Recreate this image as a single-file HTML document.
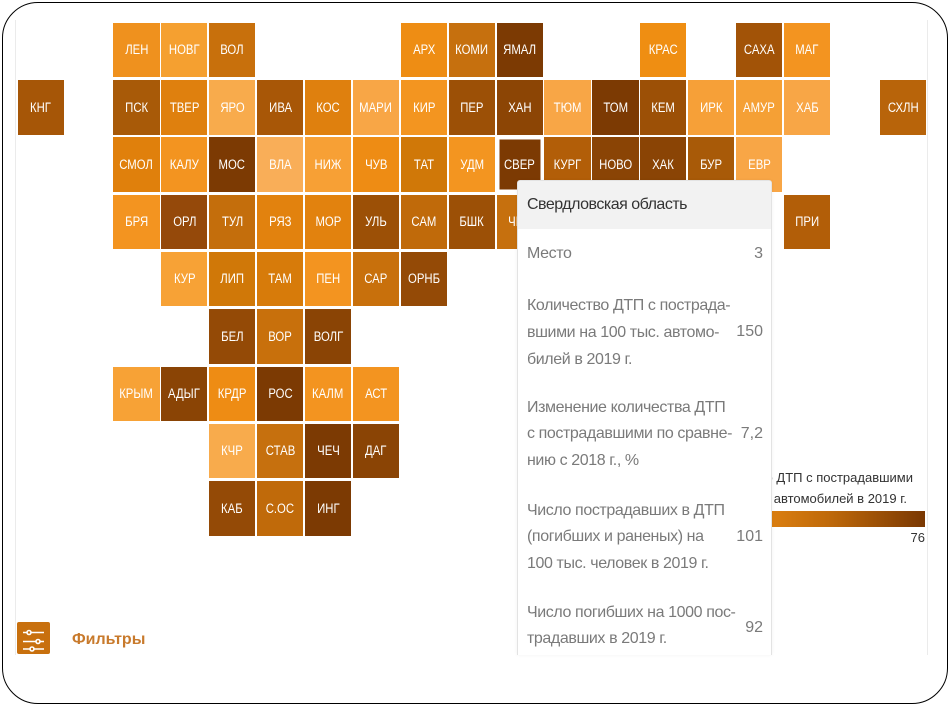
<!DOCTYPE html>
<html><head><meta charset="utf-8">
<style>
html,body{margin:0;padding:0;background:#fff;}
body{width:949px;height:705px;position:relative;overflow:hidden;font-family:"Liberation Sans","Noto Sans CJK SC",sans-serif;}
.frame{position:absolute;left:1.5px;top:1.5px;width:946.5px;height:702px;box-sizing:border-box;border:1.6px solid #000;border-radius:36px;z-index:50;pointer-events:none;}
.vl{position:absolute;width:1px;background:#ebebeb;top:20px;height:635px;}
.t{position:absolute;width:46.3px;height:54.5px;left:calc(17.5px + 47.9px*var(--c));top:calc(22.7px + 57.3px*var(--r));display:flex;align-items:center;justify-content:center;color:#fff;font-size:13.5px;line-height:1;}
.t span{display:inline-block;transform:scaleX(.84);white-space:nowrap;}
.tip{position:absolute;left:517px;top:180px;width:255px;height:475px;box-sizing:border-box;background:#fff;border:1px solid #e3e3e3;border-bottom:none;border-radius:3px 3px 0 0;box-shadow:0 0 3px rgba(0,0,0,.06);z-index:10;overflow:hidden;}
.tip .hd{position:absolute;left:0;top:0;right:0;height:48px;background:#f2f2f2;}
.ln{position:absolute;font-size:16px;line-height:27px;height:27px;white-space:nowrap;letter-spacing:-0.4px;color:#7a7a7a;}
.hdt{color:#333;letter-spacing:-0.5px;}
.val{position:absolute;font-size:16px;line-height:27px;height:27px;color:#7a7a7a;text-align:right;right:8px;width:60px;}
.lg{position:absolute;font-size:13px;line-height:20px;color:#333;white-space:nowrap;text-align:right;}
</style></head>
<body>
<div class="vl" style="left:15px"></div>
<div class="vl" style="left:927px"></div>

<!-- row 0 -->
<div class="t" style="--c:2;--r:0;background:#ef911e"><span>ЛЕН</span></div>
<div class="t" style="--c:3;--r:0;background:#f5a030"><span>НОВГ</span></div>
<div class="t" style="--c:4;--r:0;background:#c8700c"><span>ВОЛ</span></div>
<div class="t" style="--c:8;--r:0;background:#ee8d14"><span>АРХ</span></div>
<div class="t" style="--c:9;--r:0;background:#c6700e"><span>КОМИ</span></div>
<div class="t" style="--c:10;--r:0;background:#7c3a03"><span>ЯМАЛ</span></div>
<div class="t" style="--c:13;--r:0;background:#ef8e12"><span>КРАС</span></div>
<div class="t" style="--c:15;--r:0;background:#a25307"><span>САХА</span></div>
<div class="t" style="--c:16;--r:0;background:#f39420"><span>МАГ</span></div>
<!-- row 1 -->
<div class="t" style="--c:0;--r:1;background:#a65607"><span>КНГ</span></div>
<div class="t" style="--c:2;--r:1;background:#a85a08"><span>ПСК</span></div>
<div class="t" style="--c:3;--r:1;background:#df800e"><span>ТВЕР</span></div>
<div class="t" style="--c:4;--r:1;background:#f8ab4c"><span>ЯРО</span></div>
<div class="t" style="--c:5;--r:1;background:#a85707"><span>ИВА</span></div>
<div class="t" style="--c:6;--r:1;background:#df800e"><span>КОС</span></div>
<div class="t" style="--c:7;--r:1;background:#f8a646"><span>МАРИ</span></div>
<div class="t" style="--c:8;--r:1;background:#f39520"><span>КИР</span></div>
<div class="t" style="--c:9;--r:1;background:#9c5006"><span>ПЕР</span></div>
<div class="t" style="--c:10;--r:1;background:#8c4505"><span>ХАН</span></div>
<div class="t" style="--c:11;--r:1;background:#f8a646"><span>ТЮМ</span></div>
<div class="t" style="--c:12;--r:1;background:#7c3a03"><span>ТОМ</span></div>
<div class="t" style="--c:13;--r:1;background:#9c5006"><span>КЕМ</span></div>
<div class="t" style="--c:14;--r:1;background:#f6a038"><span>ИРК</span></div>
<div class="t" style="--c:15;--r:1;background:#f5a035"><span>АМУР</span></div>
<div class="t" style="--c:16;--r:1;background:#f8a646"><span>ХАБ</span></div>
<div class="t" style="--c:18;--r:1;background:#b8640a"><span>СХЛН</span></div>
<!-- row 2 -->
<div class="t" style="--c:2;--r:2;background:#e0800c"><span>СМОЛ</span></div>
<div class="t" style="--c:3;--r:2;background:#f39420"><span>КАЛУ</span></div>
<div class="t" style="--c:4;--r:2;background:#7c3a03"><span>МОС</span></div>
<div class="t" style="--c:5;--r:2;background:#f9ae58"><span>ВЛА</span></div>
<div class="t" style="--c:6;--r:2;background:#f7a035"><span>НИЖ</span></div>
<div class="t" style="--c:7;--r:2;background:#ee8c14"><span>ЧУВ</span></div>
<div class="t" style="--c:8;--r:2;background:#d07808"><span>ТАТ</span></div>
<div class="t" style="--c:9;--r:2;background:#f39520"><span>УДМ</span></div>
<div class="t" style="--c:10;--r:2;background:#7c3a03;box-shadow:inset 0 0 0 2.5px #fff"><span>СВЕР</span></div>
<div class="t" style="--c:11;--r:2;background:#b25e08"><span>КУРГ</span></div>
<div class="t" style="--c:12;--r:2;background:#8a4405"><span>НОВО</span></div>
<div class="t" style="--c:13;--r:2;background:#8a4405"><span>ХАК</span></div>
<div class="t" style="--c:14;--r:2;background:#a85a08"><span>БУР</span></div>
<div class="t" style="--c:15;--r:2;background:#f8a646"><span>ЕВР</span></div>
<!-- row 3 -->
<div class="t" style="--c:2;--r:3;background:#f39420"><span>БРЯ</span></div>
<div class="t" style="--c:3;--r:3;background:#95490a"><span>ОРЛ</span></div>
<div class="t" style="--c:4;--r:3;background:#c46e0c"><span>ТУЛ</span></div>
<div class="t" style="--c:5;--r:3;background:#e2820e"><span>РЯЗ</span></div>
<div class="t" style="--c:6;--r:3;background:#e2820e"><span>МОР</span></div>
<div class="t" style="--c:7;--r:3;background:#9c5006"><span>УЛЬ</span></div>
<div class="t" style="--c:8;--r:3;background:#c06a0a"><span>САМ</span></div>
<div class="t" style="--c:9;--r:3;background:#9c5006"><span>БШК</span></div>
<div class="t" style="--c:10;--r:3;background:#c6700e"><span>ЧЕЛ</span></div>
<div class="t" style="--c:16;--r:3;background:#b25e08"><span>ПРИ</span></div>
<!-- row 4 -->
<div class="t" style="--c:3;--r:4;background:#f7a236"><span>КУР</span></div>
<div class="t" style="--c:4;--r:4;background:#d07808"><span>ЛИП</span></div>
<div class="t" style="--c:5;--r:4;background:#d77b0a"><span>ТАМ</span></div>
<div class="t" style="--c:6;--r:4;background:#f39420"><span>ПЕН</span></div>
<div class="t" style="--c:7;--r:4;background:#c8700c"><span>САР</span></div>
<div class="t" style="--c:8;--r:4;background:#944a06"><span>ОРНБ</span></div>
<!-- row 5 -->
<div class="t" style="--c:4;--r:5;background:#944a06"><span>БЕЛ</span></div>
<div class="t" style="--c:5;--r:5;background:#c8700c"><span>ВОР</span></div>
<div class="t" style="--c:6;--r:5;background:#8a4405"><span>ВОЛГ</span></div>
<!-- row 6 -->
<div class="t" style="--c:2;--r:6;background:#f7a236"><span>КРЫМ</span></div>
<div class="t" style="--c:3;--r:6;background:#8a4405"><span>АДЫГ</span></div>
<div class="t" style="--c:4;--r:6;background:#ee8c14"><span>КРДР</span></div>
<div class="t" style="--c:5;--r:6;background:#7c3a03"><span>РОС</span></div>
<div class="t" style="--c:6;--r:6;background:#f39420"><span>КАЛМ</span></div>
<div class="t" style="--c:7;--r:6;background:#f39420"><span>АСТ</span></div>
<!-- row 7 -->
<div class="t" style="--c:4;--r:7;background:#f8ab4c"><span>КЧР</span></div>
<div class="t" style="--c:5;--r:7;background:#c6700e"><span>СТАВ</span></div>
<div class="t" style="--c:6;--r:7;background:#7c3a03"><span>ЧЕЧ</span></div>
<div class="t" style="--c:7;--r:7;background:#8a4405"><span>ДАГ</span></div>
<!-- row 8 -->
<div class="t" style="--c:4;--r:8;background:#944a06"><span>КАБ</span></div>
<div class="t" style="--c:5;--r:8;background:#c06a0a"><span>С.ОС</span></div>
<div class="t" style="--c:6;--r:8;background:#7c3a03"><span>ИНГ</span></div>

<!-- legend -->
<div class="lg" style="right:36px;top:468px;">Количество ДТП с пострадавшими</div>
<div class="lg" style="right:42px;top:489px;">на 100 тыс. автомобилей в 2019 г.</div>
<div style="position:absolute;left:600px;top:511px;width:325px;height:16px;background:linear-gradient(90deg,#f7a030 0%,#ee8d14 40%,#c06a0a 70%,#7a3802 100%);"></div>
<div class="lg" style="right:24px;top:528px;">76</div>

<!-- tooltip -->
<div class="tip">
  <div class="hd"></div>
  <div class="ln hdt" style="left:9px;top:10px;">Свердловская область</div>
  <div class="ln" style="left:9px;top:59px;">Место</div>
  <div class="val" style="top:59px;">3</div>

  <div class="ln" style="left:9px;top:111px;">Количество ДТП с пострада-</div>
  <div class="ln" style="left:9px;top:138px;">вшими на 100 тыс. автомо-</div>
  <div class="ln" style="left:9px;top:165px;">билей в 2019 г.</div>
  <div class="val" style="top:137px;">150</div>

  <div class="ln" style="left:9px;top:213px;">Изменение количества ДТП</div>
  <div class="ln" style="left:9px;top:239px;">с пострадавшими по сравне-</div>
  <div class="ln" style="left:9px;top:266px;">нию с 2018 г., %</div>
  <div class="val" style="top:239px;">7,2</div>

  <div class="ln" style="left:9px;top:316px;">Число пострадавших в ДТП</div>
  <div class="ln" style="left:9px;top:342px;">(погибших и раненых) на</div>
  <div class="ln" style="left:9px;top:369px;">100 тыс. человек в 2019 г.</div>
  <div class="val" style="top:342px;">101</div>

  <div class="ln" style="left:9px;top:418px;">Число погибших на 1000 пос-</div>
  <div class="ln" style="left:9px;top:444px;">традавших в 2019 г.</div>
  <div class="val" style="top:433px;">92</div>
</div>

<!-- filters -->
<svg style="position:absolute;left:17px;top:622px;" width="33" height="32" viewBox="0 0 33 32">
  <rect x="0" y="0" width="33" height="32" rx="2" fill="#c8700e"/>
  <g stroke="#fff" stroke-width="1.6" fill="#c8700e">
    <line x1="6" y1="10.5" x2="27" y2="10.5"/>
    <line x1="6" y1="19.5" x2="27" y2="19.5"/>
    <line x1="6" y1="27" x2="27" y2="27"/>
    <circle cx="12" cy="10.5" r="2"/>
    <circle cx="21" cy="19.5" r="2"/>
    <circle cx="15" cy="27" r="2"/>
  </g>
</svg>
<div style="position:absolute;left:72px;top:630px;font-size:16px;font-weight:bold;color:#c87a2c;line-height:20px;">Фильтры</div>

<div class="frame"></div>
</body></html>
